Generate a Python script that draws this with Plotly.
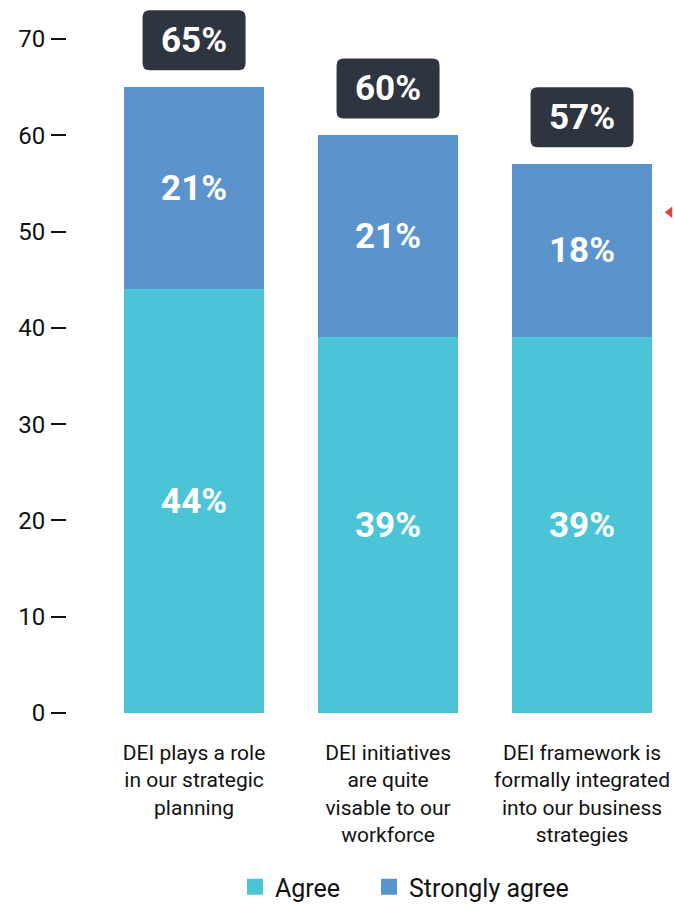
import plotly.graph_objects as go

categories = [
    "DEI plays a role<br>in our strategic<br>planning",
    "DEI initiatives<br>are quite<br>visable to our<br>workforce",
    "DEI framework is<br>formally integrated<br>into our business<br>strategies",
]
agree = [44, 39, 39]
strongly_agree = [21, 21, 18]
totals = [65, 60, 57]
y_ticks = [0, 10, 20, 30, 40, 50, 60, 70]
marker_y = [52]

AGREE_C = "#4cc4d7"
STRONG_C = "#5b94cc"
BOX_C = "#2e3440"
FONT = "Roboto"

xpos = list(range(len(categories)))

fig = go.Figure()
fig.add_trace(go.Bar(
    x=xpos, y=agree, name="Agree", marker=dict(color=AGREE_C, line=dict(width=0)),
    width=0.72, text=[f"{v}%" for v in agree], textposition="inside",
    insidetextanchor="middle", textangle=0,
    textfont=dict(family=FONT, size=35, color="white", weight="bold"),
    showlegend=False, hoverinfo="skip",
))
fig.add_trace(go.Bar(
    x=xpos, y=strongly_agree, name="Strongly agree", marker=dict(color=STRONG_C, line=dict(width=0)),
    width=0.72, text=[f"{v}%" for v in strongly_agree], textposition="inside",
    insidetextanchor="middle", textangle=0,
    textfont=dict(family=FONT, size=35, color="white", weight="bold"),
    showlegend=False, hoverinfo="skip",
))
# legend proxies (one legend each, to control spacing)
fig.add_trace(go.Scatter(
    x=[None], y=[None], mode="markers", name="Agree", legend="legend",
    marker=dict(symbol="square", size=16, color=AGREE_C),
))
fig.add_trace(go.Scatter(
    x=[None], y=[None], mode="markers", name="Strongly agree", legend="legend2",
    marker=dict(symbol="square", size=16, color=STRONG_C),
))

# red marker at the right edge
fig.add_trace(go.Scatter(
    x=[2.452], y=marker_y, mode="markers", showlegend=False, cliponaxis=False,
    marker=dict(symbol="triangle-left", size=10, color="#e8413a"), hoverinfo="skip",
))

# total labels in rounded dark boxes
px_x = 194.0   # pixels per x unit
px_y = 9.629   # pixels per y unit
bw = 103 / px_x
bh = 60 / px_y
gap = 1.75
r = 7
rx, ry = r / px_x, r / px_y
for i, t in enumerate(totals):
    x0, x1 = xpos[i] - bw / 2, xpos[i] + bw / 2
    y0 = t + gap
    y1 = y0 + bh
    path = (f"M {x0+rx},{y0} L {x1-rx},{y0} Q {x1},{y0} {x1},{y0+ry} "
            f"L {x1},{y1-ry} Q {x1},{y1} {x1-rx},{y1} L {x0+rx},{y1} "
            f"Q {x0},{y1} {x0},{y1-ry} L {x0},{y0+ry} Q {x0},{y0} {x0+rx},{y0} Z")
    fig.add_shape(type="path", path=path, xref="x", yref="y",
                  fillcolor=BOX_C, line=dict(width=0), layer="above")
    fig.add_annotation(x=xpos[i], y=(y0 + y1) / 2, text=f"{t}%", showarrow=False,
                       xref="x", yref="y",
                       font=dict(family=FONT, size=35, color="white", weight="bold"))

legend_common = dict(orientation="h", xanchor="left", y=-0.2118, yanchor="top",
                     font=dict(family=FONT, size=25, color="#111111"),
                     itemsizing="trace", bgcolor="rgba(0,0,0,0)")

fig.update_layout(
    barmode="stack",
    width=674, height=905,
    margin=dict(l=67, r=0, t=0, b=192, autoexpand=False),
    plot_bgcolor="white", paper_bgcolor="white",
    font=dict(family=FONT, color="#111111"),
    showlegend=True,
    legend=dict(x=0.2768, **legend_common),
    legend2=dict(x=0.4975, **legend_common),
    xaxis=dict(range=[-0.655, 2.474], tickvals=xpos, ticktext=categories,
               showgrid=False, zeroline=False, showline=False, ticks="",
               automargin=False, ticklabelstandoff=25,
               tickfont=dict(family=FONT, size=21, color="#111111")),
    yaxis=dict(range=[0, 74.05], tickvals=y_ticks, showgrid=False, zeroline=False,
               showline=False, ticks="outside", ticklen=15, tickwidth=1.5,
               tickcolor="#111111", ticklabelstandoff=1, automargin=False,
               tickfont=dict(family=FONT, size=24, color="#111111")),
)

fig.write_html(
    "out.html",
    config={"displayModeBar": False},
    post_script=("document.documentElement.style.overflow='hidden';"
                 "document.body.style.margin='0';"
                 "document.body.style.overflow='hidden';"),
)
